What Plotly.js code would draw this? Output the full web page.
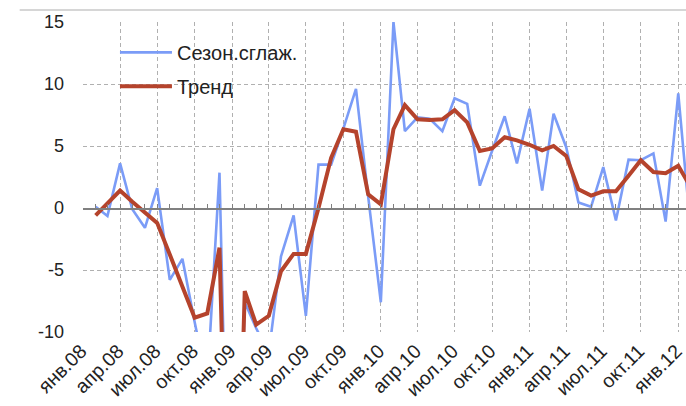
<!DOCTYPE html>
<html>
<head>
<meta charset="utf-8">
<script src="https://cdn.plot.ly/plotly-3.0.1.min.js"></script>
<style>
html,body{margin:0;padding:0;background:#fff;}
#chart{width:686px;height:406px;}
</style>
</head>
<body>
<div id="chart"></div>
<script>
// Months (Feb 2008 .. Feb 2012)
const months = [
  "2008-02-01","2008-03-01","2008-04-01","2008-05-01","2008-06-01","2008-07-01","2008-08-01","2008-09-01","2008-10-01","2008-11-01","2008-12-01",
  "2009-01-01","2009-02-01","2009-03-01","2009-04-01","2009-05-01","2009-06-01","2009-07-01","2009-08-01","2009-09-01","2009-10-01","2009-11-01","2009-12-01",
  "2010-01-01","2010-02-01","2010-03-01","2010-04-01","2010-05-01","2010-06-01","2010-07-01","2010-08-01","2010-09-01","2010-10-01","2010-11-01","2010-12-01",
  "2011-01-01","2011-02-01","2011-03-01","2011-04-01","2011-05-01","2011-06-01","2011-07-01","2011-08-01","2011-09-01","2011-10-01","2011-11-01","2011-12-01",
  "2012-01-01","2012-02-01"
];
// Seasonally smoothed series
const seasonal = [
  0.1, -0.65, 3.6, -0.1, -1.6, 1.6, -5.8, -4.1, -9.2, -14.1, 2.85,
  -40, -7.6, -9.7, -11.7, -3.9, -0.6, -8.7, 3.5, 3.5, 6.4, 9.6, 0.9,
  -7.6, 15.0, 6.2, 7.3, 7.2, 6.2, 8.85, 8.4, 1.8, 4.6, 7.4, 3.6,
  8.0, 1.4, 7.6, 4.9, 0.45, 0.1, 3.3, -1.0, 3.9, 3.85, 4.4, -1.1,
  9.25, -2.0
];
// Trend series
const trend = [
  -0.6, 0.4, 1.4, 0.5, -0.35, -1.2, -3.75, -6.3, -8.85, -8.5, -3.2,
  -42, -6.7, -9.4, -8.7, -5.1, -3.7, -3.7, 0.0, 4.05, 6.35, 6.15, 1.1,
  0.3, 6.35, 8.3, 7.15, 7.1, 7.15, 7.9, 6.9, 4.6, 4.8, 5.7, 5.45,
  5.1, 4.65, 5.0, 4.2, 1.5, 1.0, 1.35, 1.35, 2.6, 3.85, 2.9, 2.8,
  3.4, 1.65
];
// Tick positions/labels (every 3 months)
const tickDates = [
  "2008-01-01","2008-04-01","2008-07-01","2008-10-01",
  "2009-01-01","2009-04-01","2009-07-01","2009-10-01",
  "2010-01-01","2010-04-01","2010-07-01","2010-10-01",
  "2011-01-01","2011-04-01","2011-07-01","2011-10-01",
  "2012-01-01"
];
const tickLabels = [
  "янв.08","апр.08","июл.08","окт.08",
  "янв.09","апр.09","июл.09","окт.09",
  "янв.10","апр.10","июл.10","окт.10",
  "янв.11","апр.11","июл.11","окт.11",
  "янв.12"
];
const monthTicks = ["2008-01-01"].concat(months);
const seriesNames = ["Сезон.сглаж.", "Тренд"];

const xRange = ["2008-01-01", "2012-01-20"];
const font = "Liberation Sans, Arial, sans-serif";

const data = [
  {x: months, y: seasonal, name: seriesNames[0], type: "scatter", mode: "lines",
   line: {color: "#7b9cf7", width: 2.6}, legendgroup: "a"},
  {x: months, y: trend, name: seriesNames[1], type: "scatter", mode: "lines",
   line: {color: "#b5432c", width: 4}, legendgroup: "b"},
  {x: monthTicks, y: monthTicks.map(() => null), xaxis: "x2", yaxis: "y",
   showlegend: false, hoverinfo: "skip", mode: "lines"}
];

const layout = {
  width: 686, height: 406,
  margin: {l: 83, r: 0, t: 22, b: 74, pad: 0},
  paper_bgcolor: "#fff", plot_bgcolor: "#fff",
  font: {family: font, size: 18, color: "#222"},
  showlegend: true,
  legend: {x: 0.053, y: 0.965, xanchor: "left", yanchor: "top", itemwidth: 52,
           bgcolor: "rgba(0,0,0,0)", font: {family: font, size: 20, color: "#222"},
           traceorder: "grouped", tracegroupgap: 5},
  xaxis: {type: "date", range: xRange, tickvals: tickDates, ticktext: tickLabels,
          tickangle: -45, showgrid: true, gridcolor: "#b0b0b0", griddash: "4px,3px", gridwidth: 1,
          zeroline: false, showline: false, ticks: "", tickfont: {size: 19.5, color: "#222"},
          ticklabelstandoff: 3, ticklabelshift: -2, ticklabeloverflow: "allow"},
  xaxis2: {type: "date", range: xRange, overlaying: "x", anchor: "free", position: 0.4,
           side: "bottom", showline: true, linecolor: "#808080", linewidth: 1.5,
           ticks: "inside", tickvals: monthTicks, ticklen: 4, tickcolor: "#808080", tickwidth: 1,
           showticklabels: false, showgrid: false, zeroline: false},
  yaxis: {range: [-10, 15], tickvals: [-10, -5, 0, 5, 10, 15], ticktext: ["-10","-5","0","5","10","15"],
          showgrid: true, gridcolor: "#b0b0b0", griddash: "4px,3px", gridwidth: 1,
          zeroline: false, showline: false, ticks: "", ticklabelstandoff: 18,
          tickfont: {size: 18, color: "#222"}},
  shapes: [
    {type: "line", xref: "paper", yref: "paper", x0: -0.105, x1: 1.0, y0: 1.039, y1: 1.039,
     line: {color: "#c8c8c8", width: 1.5}}
  ]
};

Plotly.newPlot("chart", data, layout, {displayModeBar: false, staticPlot: true});
</script>
</body>
</html>
